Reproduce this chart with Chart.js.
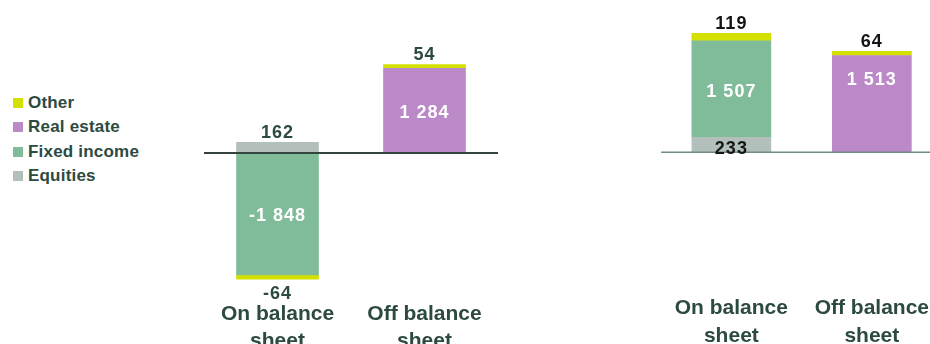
<!DOCTYPE html>
<html>
<head>
<meta charset="utf-8">
<script src="https://cdn.jsdelivr.net/npm/chart.js@4.4.1/dist/chart.umd.min.js"></script>
<style>
  html, body { margin: 0; padding: 0; background: #fff; }
  body { width: 930px; height: 344px; position: relative; overflow: hidden; font-family: "Liberation Sans", Arial, sans-serif; }
  .panel { position: absolute; top: 0; }
  #legend { position: absolute; left: 13px; top: 91px; }
  .legend-row { display: flex; align-items: center; height: 24.3px; font-weight: bold; font-size: 17px; letter-spacing: 0.2px; color: #2d4a40; }
  .legend-box { width: 10px; height: 10px; margin-right: 5px; }
</style>
</head>
<body>
<div id="legend"></div>
<div class="panel" style="left:204px;width:294px;height:344px;"><canvas id="chartA"></canvas></div>
<div class="panel" style="left:660.5px;width:282px;height:344px;"><canvas id="chartB"></canvas></div>
<script>
// --- Data ---
const categories = [['On balance', 'sheet'], ['Off balance', 'sheet']];
const seriesNames = ['Equities', 'Fixed income', 'Real estate', 'Other'];

// left panel
const equitiesA = [162, null];
const fixedIncomeA = [-1848, null];
const realEstateA = [null, 1284];
const otherA = [-64, 54];

// right panel
const equitiesB = [233, null];
const fixedIncomeB = [1507, null];
const realEstateB = [null, 1513];
const otherB = [119, 64];

// --- Styles ---
const seriesColors = ['#b3bfbb', '#80bc9a', '#bb88c8', '#d4e000'];
const textDark = '#2d4a40';
const FONT = '"Liberation Sans", Arial, sans-serif';

// --- Legend (top item = last series) ---
const legendEl = document.getElementById('legend');
seriesNames.slice().reverse().forEach((name, i) => {
    const color = seriesColors[seriesNames.length - 1 - i];
    legendEl.innerHTML += `<div class="legend-row"><span class="legend-box" style="background:${color}"></span>${name}</div>`;
});

function fmt(v) {
    const s = Math.abs(v).toString().replace(/\B(?=(\d{3})+(?!\d))/g, ' ');
    return (v < 0 ? '-' : '') + s;
}

// zero line + value labels
const barDecor = {
    id: 'barDecor',
    afterDatasetsDraw(chart, args, opts) {
        const { ctx, chartArea, scales } = chart;
        const y0 = scales.y.getPixelForValue(0);
        ctx.save();
        ctx.strokeStyle = opts.lineColor;
        ctx.lineWidth = opts.lineWidth;
        ctx.beginPath();
        ctx.moveTo(chartArea.left, y0);
        ctx.lineTo(chartArea.right, y0);
        ctx.stroke();

        ctx.font = 'bold 18px ' + FONT;
        ctx.letterSpacing = '1px';
        ctx.textAlign = 'center';
        ctx.textBaseline = 'middle';
        const sets = chart.data.datasets;
        sets.forEach((ds, di) => {
            const meta = chart.getDatasetMeta(di);
            ds.data.forEach((v, i) => {
                if (v === null) return;
                const bar = meta.data[i];
                const top = Math.min(bar.y, bar.base);
                const bottom = Math.max(bar.y, bar.base);
                const h = bottom - top;
                const outer = !sets.slice(di + 1).some(o => o.data[i] !== null && Math.sign(o.data[i]) === Math.sign(v));
                let y;
                if (h > 30) {
                    ctx.fillStyle = '#ffffff';
                    y = (top + bottom) / 2 + 2.5 + ((opts.innerShift || {})[di + '-' + i] || 0);
                } else if (outer) {
                    ctx.fillStyle = opts.textColor;
                    y = v > 0 ? top - 9.5 : bottom + 15;
                } else {
                    ctx.fillStyle = opts.textColor;
                    y = (top + bottom) / 2 + 4;
                }
                ctx.fillText(fmt(v), bar.x, y);
            });
        });
        ctx.restore();
    }
};

function makeChart(id, values, cfg) {
    return new Chart(document.getElementById(id), {
        type: 'bar',
        data: {
            labels: categories,
            datasets: seriesNames.map((name, i) => ({
                label: name,
                data: values[i],
                backgroundColor: seriesColors[i],
                barThickness: cfg.barWidth,
                borderWidth: 0
            }))
        },
        options: {
            responsive: true,
            maintainAspectRatio: false,
            animation: false,
            layout: { padding: { top: cfg.top, bottom: 0, left: 0, right: 0 } },
            scales: {
                x: {
                    stacked: true,
                    grid: { display: false, drawTicks: false },
                    border: { display: false },
                    ticks: {
                        color: textDark,
                        padding: cfg.tickPad,
                        font: { family: FONT, size: 21, weight: 'bold', lineHeight: 1.32 }
                    },
                    afterFit: (s) => { s.height = cfg.axisHeight; }
                },
                y: {
                    stacked: true,
                    display: false,
                    min: -2000,
                    max: 2000
                }
            },
            plugins: {
                legend: { display: false },
                tooltip: { enabled: false },
                barDecor: {
                    lineColor: cfg.lineColor,
                    lineWidth: cfg.lineWidth,
                    textColor: cfg.textColor,
                    innerShift: cfg.innerShift
                }
            }
        },
        plugins: [barDecor]
    });
}

makeChart('chartA', [equitiesA, fixedIncomeA, realEstateA, otherA], {
    barWidth: 82, top: 21, axisHeight: 59, tickPad: 15,
    lineColor: '#34443f', lineWidth: 2, textColor: textDark
});

makeChart('chartB', [equitiesB, fixedIncomeB, realEstateB, otherB], {
    barWidth: 79, top: 24.3, axisHeight: 63.7, tickPad: 14,
    lineColor: '#6f8a82', lineWidth: 1.5, textColor: '#151515',
    innerShift: { '2-1': -26 }
});
</script>
</body>
</html>
